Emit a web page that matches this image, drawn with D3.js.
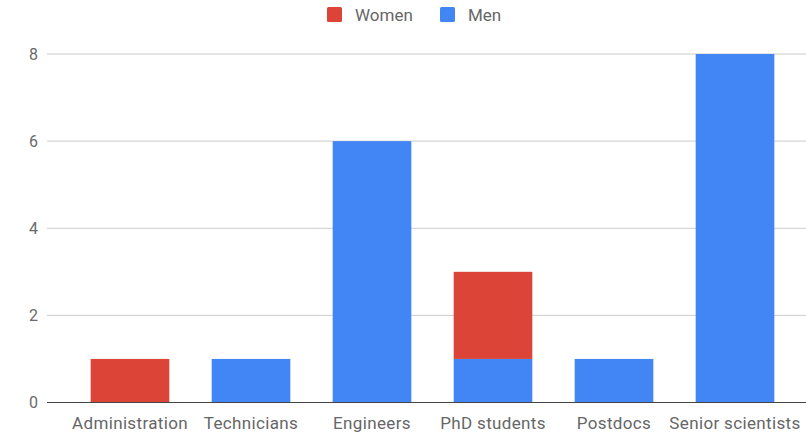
<!DOCTYPE html>
<html>
<head>
<meta charset="utf-8">
<script src="https://cdn.jsdelivr.net/npm/d3@7"></script>
<style>
  body { margin: 0; background: #fff; }
  text { font-family: Roboto, "Noto Sans", sans-serif; }
</style>
</head>
<body>
<svg width="806" height="432"></svg>
<script>
const width = 806;
const height = 432;

const categories = ['Administration', 'Technicians', 'Engineers', 'PhD students', 'Postdocs', 'Senior scientists'];
const men = [0, 1, 6, 1, 1, 8];
const women = [1, 0, 0, 2, 0, 0];
const yTicks = [0, 2, 4, 6, 8];

const series = [
    { name: 'Women', color: '#db4437' },
    { name: 'Men', color: '#4285f4' },
];

const renderChart = () => {
    const svg = d3.select('svg');

    const x = d3.scaleBand()
        .domain(categories)
        .range([69.5, 795.5])
        .paddingInner(0.35)
        .paddingOuter(0.175);

    const y = d3.scaleLinear()
        .domain([0, 8])
        .range([402.5, 54]);

    // gridlines
    svg.append('g')
        .selectAll('line')
        .data(yTicks)
        .enter().append('line')
        .attr('x1', 47)
        .attr('x2', width)
        .attr('y1', d => y(d))
        .attr('y2', d => y(d))
        .style('stroke', d => d === 0 ? '#444' : '#ccc')
        .style('stroke-width', 1);

    svg.append('g')
        .selectAll('text')
        .data(yTicks)
        .enter().append('text')
        .attr('x', 38)
        .attr('y', d => y(d))
        .attr('dy', '.35em')
        .style('text-anchor', 'end')
        .style('font-size', '16px')
        .style('fill', '#6a6a6a')
        .text(d => d);

    const rows = categories.map((c, i) => ({ cat: c, Men: men[i], Women: women[i] }));
    const stacked = d3.stack().keys(['Men', 'Women'])(rows);
    const colorOf = { Men: '#4285f4', Women: '#db4437' };

    svg.append('g')
        .selectAll('g')
        .data(stacked)
        .enter().append('g')
        .style('fill', s => colorOf[s.key])
        .selectAll('rect')
        .data(s => s.filter(d => d[1] > d[0]))
        .enter().append('rect')
        .attr('x', d => x(d.data.cat))
        .attr('width', x.bandwidth())
        .attr('y', d => y(d[1]))
        .attr('height', d => y(d[0]) - y(d[1]));

    // redraw baseline over bars
    svg.append('line')
        .attr('x1', 47).attr('x2', width)
        .attr('y1', y(0)).attr('y2', y(0))
        .style('stroke', '#444');

    svg.append('g')
        .selectAll('text')
        .data(categories)
        .enter().append('text')
        .attr('x', d => x(d) + x.bandwidth() / 2)
        .attr('y', 429)
        .style('text-anchor', 'middle')
        .style('font-size', '17px')
        .style('letter-spacing', '0.35px')
        .style('fill', '#666')
        .text(d => d);

    // legend
    const legendX = [327, 440];
    const legend = svg.append('g')
        .selectAll('g')
        .data(series)
        .enter().append('g')
        .attr('transform', (d, i) => `translate(${legendX[i]},7)`);

    legend.append('rect')
        .attr('width', 15)
        .attr('height', 15)
        .attr('rx', 1.5)
        .style('fill', d => d.color);

    legend.append('text')
        .attr('x', 28)
        .attr('y', 14)
        .style('font-size', '17px')
        .style('fill', '#666')
        .text(d => d.name);
};

document.addEventListener('DOMContentLoaded', () => {
    renderChart();
});
</script>
</body>
</html>
